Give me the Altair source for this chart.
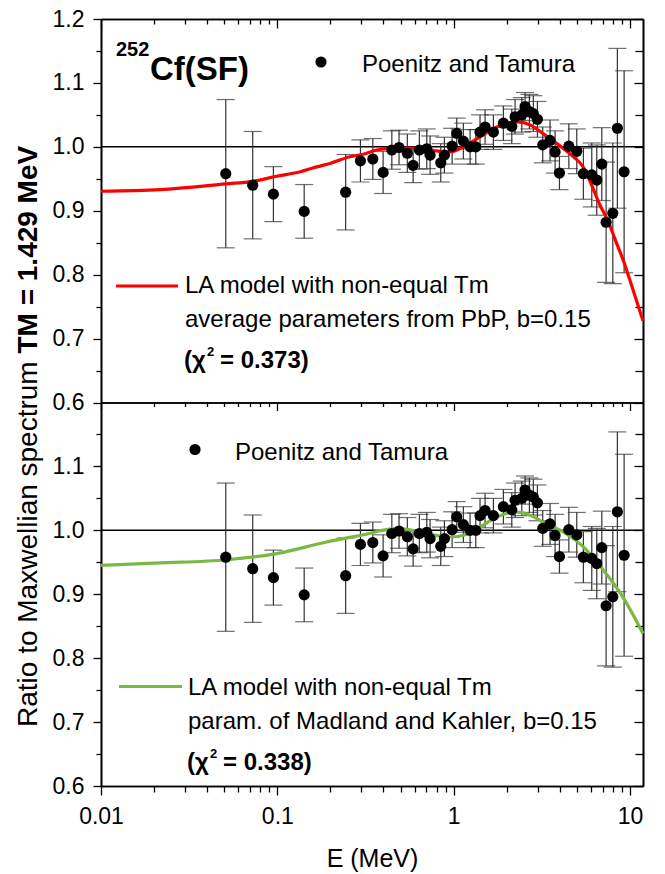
import altair as alt
import pandas as pd

# ---------------- data ----------------
E_PT = [0.051, 0.0725, 0.095, 0.142, 0.244, 0.296, 0.348, 0.398, 0.446, 0.490,
        0.546, 0.589, 0.639, 0.704, 0.735, 0.845, 0.886, 0.98, 1.041, 1.135,
        1.239, 1.335, 1.411, 1.507, 1.68, 1.914, 2.136, 2.23, 2.434, 2.54,
        2.688, 2.83, 2.985, 3.2, 3.52, 3.76, 3.98, 4.5, 4.99, 5.44,
        6.07, 6.48, 6.92, 7.32, 7.99, 8.48, 9.26]
R_PT = [0.958, 0.940, 0.926, 0.899, 0.929, 0.978, 0.981, 0.960, 0.995, 0.999,
        0.990, 0.971, 0.995, 0.997, 0.987, 0.975, 0.987, 1.001, 1.021, 1.009,
        1.000, 1.000, 1.023, 1.031, 1.023, 1.037, 1.032, 1.047, 1.050, 1.063,
        1.055, 1.052, 1.043, 1.003, 1.010, 0.992, 0.959, 1.001, 0.993, 0.958,
        0.956, 0.948, 0.973, 0.882, 0.896, 1.029, 0.961]
ERR_PT = [0.116, 0.084, 0.043, 0.042, 0.059, 0.033, 0.032, 0.033, 0.030, 0.027,
          0.030, 0.027, 0.030, 0.031, 0.030, 0.030, 0.028, 0.028, 0.024, 0.028,
          0.027, 0.027, 0.027, 0.027, 0.027, 0.027, 0.027, 0.027, 0.027, 0.022,
          0.027, 0.028, 0.028, 0.028, 0.032, 0.033, 0.026, 0.035, 0.035, 0.040,
          0.050, 0.055, 0.057, 0.094, 0.110, 0.125, 0.158]

E_RED = [0.01, 0.0216, 0.051, 0.0725, 0.099, 0.135, 0.167, 0.199, 0.258, 0.307,
         0.366, 0.435, 0.56, 0.73, 0.95, 1.135, 1.41, 1.76, 2.29, 2.73,
         3.2, 4.2, 4.8, 5.44, 6.0, 6.7, 7.5, 8.4, 9.2, 10.0, 11.85]
R_RED = [0.9305, 0.933, 0.942, 0.946, 0.954, 0.961, 0.9686, 0.974, 0.9845, 0.9885,
         0.995, 0.9975, 0.998, 0.995, 0.992, 1.000, 1.0156, 1.031, 1.039, 1.034,
         1.021, 0.997, 0.984, 0.968, 0.943, 0.911, 0.884, 0.849, 0.821, 0.791, 0.728]

E_GREEN = [0.01, 0.0216, 0.052, 0.099, 0.19, 0.295, 0.472, 0.61, 0.73, 0.95,
           1.24, 1.47, 1.76, 2.29, 2.73, 3.2, 4.2, 5.44, 7.07, 9.1, 11.85]
R_GREEN = [0.9453, 0.949, 0.954, 0.9636, 0.9817, 0.992, 1.0026, 0.999, 0.994, 0.9896,
           0.995, 1.008, 1.021, 1.0286, 1.0234, 1.013, 0.997, 0.974, 0.9375, 0.896, 0.8386]

X_MAJOR = [0.01, 0.1, 1, 10]
X_MINOR = [0.02, 0.03, 0.04, 0.05, 0.06, 0.07, 0.08, 0.09,
           0.2, 0.3, 0.4, 0.5, 0.6, 0.7, 0.8, 0.9,
           2, 3, 4, 5, 6, 7, 8, 9]
Y_MAJOR_TOP = [0.6, 0.7, 0.8, 0.9, 1.0, 1.1, 1.2]
Y_MAJOR_BOT = [0.6, 0.7, 0.8, 0.9, 1.0, 1.1]
Y_MINOR = [0.65, 0.75, 0.85, 0.95, 1.05, 1.15]
X_DOMAIN = [0.01, 11.85]
PANEL_SPAN = 0.6          # each panel shows ratio 0.6 .. 1.2
Y_DOMAIN = [0.6, round(1.2 + PANEL_SPAN, 6)]   # two stacked panels on one scale

DATA_LABEL = "Poenitz and Tamura"
TOP_LEG = ["LA model with non-equal Tm", "average parameters from PbP, b=0.15", "0.373"]
BOT_LEG = ["LA model with non-equal Tm", "param. of Madland and Kahler, b=0.15", "0.338"]
YTITLE_REG = "Ratio to Maxwellian spectrum "
YTITLE_BOLD = "TM = 1.429 MeV"

# ---------------- layout ----------------
W, H = 542, 767
HB = H / 2.0            # boundary between the panels (px from top)
FONT = "Liberation Sans"
LAB = 23
LEGFS = 24
RED = "#ff0000"
GREEN = "#79b943"
ERRC = "#333333"

pts = pd.DataFrame({"E": E_PT, "r": R_PT, "err": ERR_PT})
red = pd.DataFrame({"E": E_RED, "r": R_RED})
green = pd.DataFrame({"E": E_GREEN, "r": R_GREEN})
one = pd.DataFrame({"a": [0]})
refdf = pd.DataFrame({"r": [1.0]})

xs = alt.Scale(type="log", domain=X_DOMAIN, nice=False)
ys = alt.Scale(domain=Y_DOMAIN, nice=False, zero=False)


def X(ax=None):
    return alt.X("E:Q", scale=xs, axis=ax)


def Y(field="y", ax=None):
    return alt.Y(f"{field}:Q", scale=ys, axis=ax)


def axis(**kw):
    base = dict(domain=True, domainColor="black", domainWidth=1.6, grid=False,
                tickColor="black", tickWidth=1.3,
                labelFont=FONT, labelFontSize=LAB, labelColor="black",
                labelFlush=False, labelOverlap=False, title=None)
    base.update(kw)
    return alt.Axis(**base)


def axis_layer(xax=None, yax=None):
    return alt.Chart(pts).mark_point(opacity=0).transform_calculate(y="datum.r").encode(
        x=X(xax), y=Y("y", yax))


def txt(s, x, y, size=LEGFS, weight="normal", align="left", angle=0):
    kw = dict(align=align, baseline="alphabetic", font=FONT, fontSize=size,
              fontWeight=weight, color="black")
    if angle:
        kw["angle"] = angle
    return alt.Chart(one).mark_text(**kw).encode(
        x=alt.value(x), y=alt.value(y), text=alt.value(s))


def data_layers(curve, color, shift):
    s = f" + {shift}"
    base = alt.Chart(pts).transform_calculate(
        y="datum.r" + s, lo="datum.r - datum.err" + s, hi="datum.r + datum.err" + s)
    ref = alt.Chart(refdf).transform_calculate(y="datum.r" + s).mark_rule(
        color="black", strokeWidth=1.5).encode(y=Y())
    bars = base.mark_rule(color=ERRC, strokeWidth=1.2).encode(x=X(), y=Y("lo"), y2="hi:Q")
    cap_lo = base.mark_tick(orient="horizontal", size=18, thickness=1.2, color=ERRC).encode(
        x=X(), y=Y("lo"))
    cap_hi = base.mark_tick(orient="horizontal", size=18, thickness=1.2, color=ERRC).encode(
        x=X(), y=Y("hi"))
    line = alt.Chart(curve).transform_calculate(y="datum.r" + s).mark_line(
        color=color, strokeWidth=3.2, interpolate="monotone").encode(x=X(), y=Y())
    dots = base.mark_circle(size=125, color="black", opacity=1).encode(x=X(), y=Y())
    return [ref, bars, cap_lo, cap_hi, line, dots]


# tick positions on the stacked scale
y_major = Y_MAJOR_BOT + [round(v + PANEL_SPAN, 6) for v in Y_MAJOR_TOP]
y_minor = Y_MINOR + [round(v + PANEL_SPAN, 6) for v in Y_MINOR]
y_label_expr = "format(datum.value >= 1.1999 ? datum.value - 0.6 : datum.value, '.1f')"

axes = [
    axis_layer(yax=axis(orient="left", values=y_major, tickSize=8, labelPadding=9,
                        labelExpr=y_label_expr)),
    axis_layer(yax=axis(orient="left", values=y_minor, tickSize=5, labels=False)),
    axis_layer(yax=axis(orient="left", values=y_major, tickSize=9, labels=False, offset=-W)),
    axis_layer(yax=axis(orient="left", values=y_minor, tickSize=8, labels=False, offset=-W)),
    # bottom axis
    axis_layer(xax=axis(orient="bottom", values=X_MAJOR, tickSize=9, labelPadding=10, format="~g",
                        title="E (MeV)", titleFont=FONT, titleFontSize=25, titleFontWeight="normal",
                        titleColor="black", titleX=W / 2, titleY=80, titleBaseline="alphabetic",
                        titleAlign="center")),
    axis_layer(xax=axis(orient="bottom", values=X_MINOR, tickSize=6, labels=False)),
    # panel boundary
    axis_layer(xax=axis(orient="bottom", values=X_MAJOR, tickSize=8, labels=False, offset=-HB)),
    axis_layer(xax=axis(orient="bottom", values=X_MINOR, tickSize=4, labels=False, offset=-HB)),
    # top edge, ticks inward
    axis_layer(xax=axis(orient="bottom", values=X_MAJOR, tickSize=9, labels=False, offset=-H)),
    axis_layer(xax=axis(orient="bottom", values=X_MINOR, tickSize=5, labels=False, offset=-H)),
]

# ---- y title (two runs: regular + bold) ----
AW = {"R": .722, "a": .556, "t": .278, "i": .222, "o": .556, " ": .278, "M": .833,
      "x": .5, "w": .722, "e": .556, "l": .222, "n": .556, "s": .5, "p": .556,
      "c": .5, "r": .333, "u": .556, "m": .833}
TFS = 28
reg_w = sum(AW[c] for c in YTITLE_REG) * TFS
T_START = 708    # baseline start (bottom end of the title), px from plot top
T_X = -64        # px from plot left

B = HB  # offset of the lower panel
texts = [
    # upper panel
    txt("252", 15, 37, size=20, weight="bold"),
    txt("Cf(SF)", 49, 61, size=33, weight="bold"),
    alt.Chart(one).mark_circle(size=125, color="black", opacity=1).encode(
        x=alt.value(220), y=alt.value(43)),
    txt(DATA_LABEL, 261, 53),
    alt.Chart(one).mark_rule(color=RED, strokeWidth=3.2).encode(
        x=alt.value(15), x2=alt.value(77), y=alt.value(267)),
    txt(TOP_LEG[0], 84, 274),
    txt(TOP_LEG[1], 84, 308),
    txt("(\u03c7", 83, 349, weight="bold"),
    txt("2", 106, 337, size=13, weight="bold"),
    txt("= " + TOP_LEG[2] + ")", 119, 349, weight="bold"),
    # lower panel
    alt.Chart(one).mark_circle(size=125, color="black", opacity=1).encode(
        x=alt.value(94), y=alt.value(B + 47)),
    txt(DATA_LABEL, 134, B + 57),
    alt.Chart(one).mark_rule(color=GREEN, strokeWidth=3.2).encode(
        x=alt.value(18), x2=alt.value(81), y=alt.value(B + 284)),
    txt(BOT_LEG[0], 87, B + 292),
    txt(BOT_LEG[1], 87, B + 326),
    txt("(\u03c7", 86, B + 367, weight="bold"),
    txt("2", 109, B + 355, size=13, weight="bold"),
    txt("= " + BOT_LEG[2] + ")", 122, B + 367, weight="bold"),
    # y title
    txt(YTITLE_REG, T_X, T_START, size=TFS, angle=270),
    txt(YTITLE_BOLD, T_X, T_START - reg_w, size=TFS, weight="bold", angle=270),
]

layers = data_layers(red, RED, PANEL_SPAN) + data_layers(green, GREEN, 0) + axes + texts

chart = alt.layer(*layers).resolve_axis(x="independent", y="independent").properties(
    width=W, height=H,
    autosize=alt.AutoSizeParams(type="none"),
    padding={"left": 101, "top": 19, "right": 22, "bottom": 88},
).configure_view(stroke=None).configure(background="white")

chart.save("out.html", embed_options={"renderer": "svg", "actions": False})
